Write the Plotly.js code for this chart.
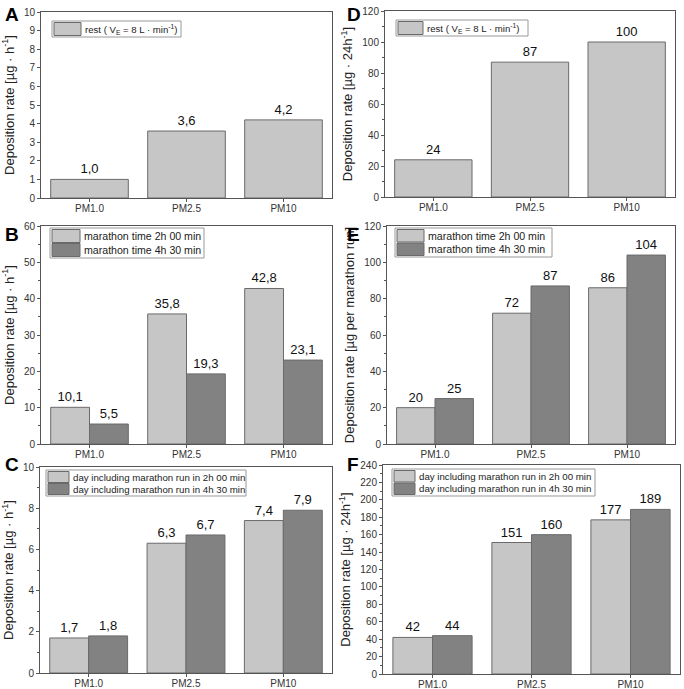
<!DOCTYPE html>
<html><head><meta charset="utf-8">
<script src="https://cdn.plot.ly/plotly-3.0.1.min.js"></script>
<style>html,body{margin:0;padding:0;background:#fff}#chart{width:684px;height:689px}</style>
</head><body><div id="chart"></div>
<script>
const categories = ['PM1.0', 'PM2.5', 'PM10'];
// Panel A: rest, per hour
const restHourly = [1.0, 3.6, 4.2];
// Panel D: rest, per 24h
const rest24h = [24, 87, 100];
// Panel B: marathon, per hour
const marathonHourly2h = [10.1, 35.8, 42.8];
const marathonHourly4h = [5.5, 19.3, 23.1];
// Panel E: per marathon run
const marathonRun2h = [20, 72, 86];
const marathonRun4h = [25, 87, 104];
// Panel C: day incl. marathon, per hour
const dayHourly2h = [1.7, 6.3, 7.4];
const dayHourly4h = [1.8, 6.7, 7.9];
// Panel F: day incl. marathon, per 24h
const day24h2h = [42, 151, 177];
const day24h4h = [44, 160, 189];

const nameRest = 'rest ( V<sub>E</sub> = 8 L · min<sup>-1</sup>)';
const nameMar2 = 'marathon time 2h 00 min';
const nameMar4 = 'marathon time 4h 30 min';
const nameDay2 = 'day including marathon run in 2h 00 min';
const nameDay4 = 'day including marathon run in 4h 30 min';

const W = 684, H = 689;
const LIGHT = '#c6c6c6', DARK = '#828282', EDGE = '#6a6a6a';
const FONT = 'Liberation Sans, Arial, sans-serif';

function fmt(v, d) { return v.toFixed(d).replace('.', ','); }
function px(x) { return x / W; }
function py(y) { return 1 - y / H; }

function bar(vals, name, color, n, dec) {
  return {
    type: 'bar', x: categories, y: vals, name: name,
    xaxis: 'x' + (n === 1 ? '' : n), yaxis: 'y' + (n === 1 ? '' : n),
    showlegend: false,
    marker: {color: color, line: {color: EDGE, width: 1}},
    text: vals.map(v => fmt(v, dec)), textposition: 'outside',
    textfont: {family: FONT, size: 13, color: '#111'},
    cliponaxis: false, hoverinfo: 'x+y'
  };
}

const traces = [
  bar(restHourly, nameRest, LIGHT, 1, 1),
  bar(marathonHourly2h, nameMar2, LIGHT, 2, 1),
  bar(marathonHourly4h, nameMar4, DARK, 2, 1),
  bar(dayHourly2h, nameDay2, LIGHT, 3, 1),
  bar(dayHourly4h, nameDay4, DARK, 3, 1),
  bar(rest24h, nameRest, LIGHT, 4, 0),
  bar(marathonRun2h, nameMar2, LIGHT, 5, 0),
  bar(marathonRun4h, nameMar4, DARK, 5, 0),
  bar(day24h2h, nameDay2, LIGHT, 6, 0),
  bar(day24h4h, nameDay4, DARK, 6, 0)
];

const panels = [
  {n: 1, x: [41, 332], y: [12, 198], range: [0, 10], dtick: 1, minor: null, title: 'Deposition rate [µg · h<sup>-1</sup>]'},
  {n: 2, x: [41, 332], y: [226, 444], range: [0, 60], dtick: 10, minor: 5, title: 'Deposition rate [µg · h<sup>-1</sup>]'},
  {n: 3, x: [40, 332], y: [467, 673], range: [0, 10], dtick: 2, minor: 1, title: 'Deposition rate [µg · h<sup>-1</sup>]'},
  {n: 4, x: [385, 675], y: [11, 197], range: [0, 120], dtick: 20, minor: 10, title: 'Deposition rate [µg · 24h<sup>-1</sup>]'},
  {n: 5, x: [387, 675], y: [226, 444], range: [0, 120], dtick: 20, minor: 10, title: 'Deposition rate [µg per marathon run]'},
  {n: 6, x: [383, 680], y: [465, 674], range: [0, 240], dtick: 20, minor: 10, title: 'Deposition rate [µg · 24h<sup>-1</sup>]'}
];

const layout = {
  width: W, height: H, margin: {l: 0, r: 0, t: 0, b: 0},
  paper_bgcolor: '#fff', plot_bgcolor: '#fff',
  barmode: 'group', bargap: 0.2, bargroupgap: 0,
  font: {family: FONT, color: '#222'},
  annotations: [], shapes: [], showlegend: false
};

panels.forEach(p => {
  const s = p.n === 1 ? '' : p.n;
  const axCommon = {
    showline: true, linecolor: '#555', linewidth: 1, mirror: true,
    ticks: 'outside', ticklen: 3, tickcolor: '#555',
    tickfont: {family: FONT, size: 10, color: '#333'},
    showgrid: false, zeroline: false, fixedrange: true
  };
  layout['xaxis' + s] = Object.assign({}, axCommon, {
    domain: [px(p.x[0]), px(p.x[1])], anchor: 'y' + s, type: 'category',
    range: [-0.5, 2.5], ticklabelstandoff: -2
  });
  const ya = Object.assign({}, axCommon, {
    domain: [py(p.y[1]), py(p.y[0])], anchor: 'x' + s,
    range: p.range, dtick: p.dtick, tick0: 0,
    title: {text: p.title, font: {family: FONT, size: 13, color: '#222'}, standoff: 6}
  });
  if (p.minor) ya.minor = {dtick: p.minor, ticks: 'outside', ticklen: 2, tickcolor: '#555'};
  layout['yaxis' + s] = ya;
});

// Compact legends (frame + swatches + text), positioned in paper pixels
function addLegend(box, entries, sw, fontSize) {
  const [x0, y0, x1, y1] = box;
  layout.shapes.push({type: 'rect', xref: 'paper', yref: 'paper',
    x0: px(x0), x1: px(x1), y0: py(y1), y1: py(y0),
    fillcolor: '#fff', line: {color: '#999', width: 1}, layer: 'above'});
  const rowH = (y1 - y0 - 2) / entries.length;
  entries.forEach((e, i) => {
    const top = y0 + 1 + i * rowH;
    layout.shapes.push({type: 'rect', xref: 'paper', yref: 'paper',
      x0: px(x0 + 2), x1: px(x0 + 2 + sw), y0: py(top + rowH - 0.5), y1: py(top + 0.5),
      fillcolor: e.color, line: {color: EDGE, width: 1}, layer: 'above'});
    layout.annotations.push({text: e.name, xref: 'paper', yref: 'paper',
      x: px(x0 + sw + 4), y: py(top + rowH / 2), xanchor: 'left', yanchor: 'middle',
      showarrow: false, font: {family: FONT, size: fontSize, color: '#222'}});
  });
}
addLegend([52, 21, 181, 37], [{name: nameRest, color: LIGHT}], 27, 9.6);
addLegend([396, 20, 528, 36], [{name: nameRest, color: LIGHT}], 25, 9.6);
addLegend([50, 228, 204, 258], [{name: nameMar2, color: LIGHT}, {name: nameMar4, color: DARK}], 28, 10.6);
addLegend([395, 228, 552, 257], [{name: nameMar2, color: LIGHT}, {name: nameMar4, color: DARK}], 27, 10.6);
addLegend([46, 470, 246, 496], [{name: nameDay2, color: LIGHT}, {name: nameDay4, color: DARK}], 21, 9.7);
addLegend([392, 469, 595, 496], [{name: nameDay2, color: LIGHT}, {name: nameDay4, color: DARK}], 21, 9.7);

const letters = [['A', 3, 2], ['B', 3, 222], ['C', 3, 452], ['D', 345, 2], ['E', 345, 222], ['F', 345, 452]];
letters.forEach(l => layout.annotations.push({
  text: '<b>' + l[0] + '</b>', x: px(l[1]), y: py(l[2]), xref: 'paper', yref: 'paper',
  xanchor: 'left', yanchor: 'top', showarrow: false,
  font: {family: FONT, size: 19, color: '#000'}
}));

Plotly.newPlot('chart', traces, layout, {displayModeBar: false, staticPlot: true});
</script></body></html>
